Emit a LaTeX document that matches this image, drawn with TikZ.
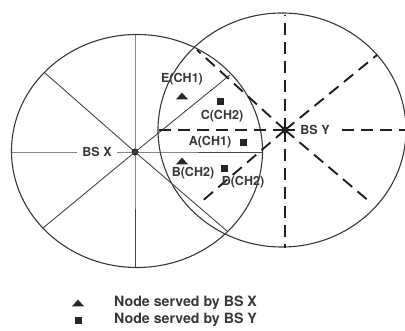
\documentclass[tikz,border=0pt]{standalone}
\usepackage{fontspec}
\setmainfont{TeX Gyre Heros}
\begin{document}
\begin{tikzpicture}[x=1pt,y=-1pt,
  rim/.style={draw=black!78, line width=1.1pt},
  spokex/.style={draw=black!72, line width=0.9pt},
  spokey/.style={draw=black!88, line width=1.9pt, dash pattern=on 12pt off 7pt},
  bsdot/.style={circle, fill=black!90, minimum size=7pt, inner sep=0pt},
  lbl/.style={font=\fontsize{12.5}{14}\selectfont\bfseries, text=black!78, inner sep=1pt},
  bslbl/.style={lbl, fill=white, inner xsep=5pt, inner ysep=2pt},
  legtxt/.style={font=\fontsize{14.2}{16}\selectfont\bfseries, text=black!78, inner sep=0pt, anchor=west},
  sqmark/.style={rectangle, fill=black!85, minimum size=7pt, inner sep=0pt},
  trimark/.pic={\fill[black!85] (-6,3.3) -- (6,3.3) -- (0,-3.3) -- cycle;}]
\useasboundingbox (0,0) rectangle (405,331);

% coverage areas of the two base stations
\coordinate (cx) at (137,151);
\coordinate (cy) at (282,130);
\draw[rim] (cx) ellipse [x radius=125.5, y radius=116.5];
\draw[rim] (cy) ellipse [x radius=124, y radius=117];

% base stations
\node[bsdot] (bsx) at (135,152) {};
\node[bsdot] (bsy) at (285,130) {};

% sectors of BS X (solid)
\coordinate (xn) at (135,35);
\coordinate (xs) at (135,268);
\coordinate (xw) at (12,152);
\coordinate (xe) at (263,152);
\coordinate (xnw) at (45,73);
\coordinate (xse) at (227,231);
\coordinate (xsw) at (43,228);
\coordinate (xne) at (230,75);
\draw[spokex] (xn) -- (bsx.center) -- (xs);
\draw[spokex] (xw) -- (bsx.center) -- (xe);
\draw[spokex] (xnw) -- (bsx.center) -- (xse);
\draw[spokex] (xsw) -- (bsx.center) -- (xne);

% sectors of BS Y (dashed)
\coordinate (yn) at (285,15);
\coordinate (ys) at (285,248);
\coordinate (yw) at (157,130);
\coordinate (ye) at (406,130);
\coordinate (ynw) at (197,50);
\coordinate (yse) at (370,202);
\coordinate (ysw) at (200,203);
\coordinate (yne) at (377,55);
\draw[spokey] (bsy.center) -- (yn);
\draw[spokey] (bsy.center) -- (ys);
\draw[spokey] (bsy.center) -- (yw);
\draw[spokey] (bsy.center) -- (ye);
\draw[spokey] (bsy.center) -- (ynw);
\draw[spokey] (bsy.center) -- (yse);
\draw[spokey] (bsy.center) -- (ysw);
\draw[spokey] (bsy.center) -- (yne);

% base station names
\node[bslbl] (lx) at (97,152) {BS X};
\node[bslbl] (ly) at (315,130) {BS Y};

% served nodes
\coordinate (ne) at (182,96);
\pic at (ne) {trimark};
\node[lbl] (le) at (182,79) {E(CH1)};
\node[sqmark] (nc) at (220,102) {};
\node[lbl] (lc) at (222,116) {C(CH2)};
\node[sqmark] (na) at (243,143) {};
\node[lbl] (la) at (210,142) {A(CH1)};
\coordinate (nb) at (182,161);
\pic at (nb) {trimark};
\node[lbl] (lb) at (193,173) {B(CH2)};
\node[sqmark] (nd) at (224,169) {};
\node[lbl] (ld) at (243,182) {D(CH2)};

% legend
\coordinate (kx) at (78,303);
\pic at (kx) {trimark};
\node[sqmark] (ky) at (78,321) {};
\node[legtxt] (tx) at (114,303) {Node served by BS X};
\node[legtxt] (ty) at (114,320) {Node served by BS Y};
\end{tikzpicture}
\end{document}
